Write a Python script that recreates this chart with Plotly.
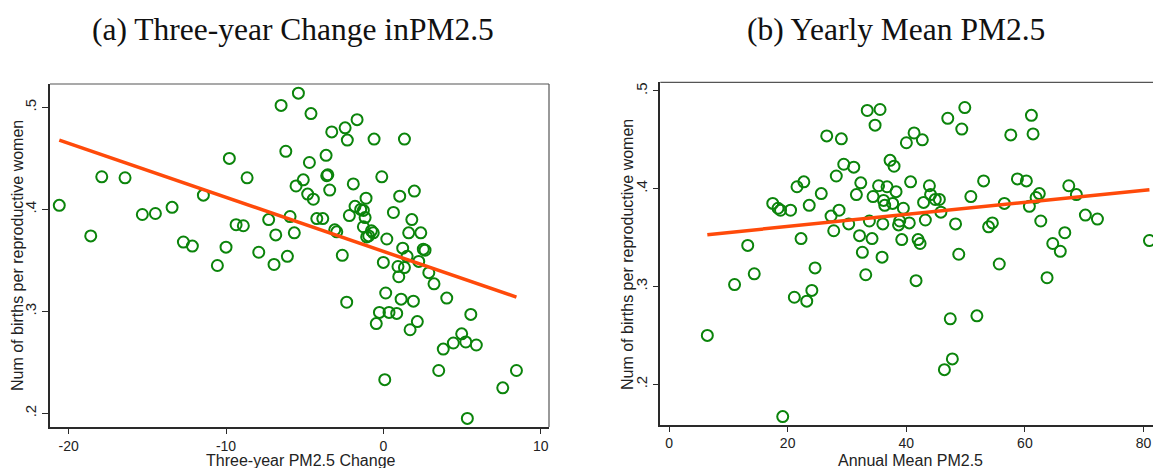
import plotly.graph_objects as go

# ---------------- Data ----------------
# Panel (a): three-year change in PM2.5 vs births per reproductive woman
change_x = [-20.60, -17.90, -16.42, -18.60, -15.32, -14.49, -13.43, -11.44, -12.71, -12.14,
            -9.79, -8.66, -9.36, -8.90, -10.00, -7.92, -7.29, -6.84, -5.93, -5.66,
            -6.50, -6.20, -5.55, -5.40, -6.10, -10.55, -6.95, -4.60, -3.28, -2.43,
            -1.67, -2.29, -0.59, 1.34, -4.70, -3.64, -3.53, -3.60, -0.10, -5.09,
            -3.41, -1.91, -4.81, -4.45, -1.10, 1.04, 1.97, -1.80, -1.44, -1.27,
            0.64, -2.16, -1.16, 1.81, -4.23, -3.85, -1.27, -3.09, -2.96, -0.76,
            -0.64, -0.93, -1.06, 1.61, 2.38, 0.22, 1.23, 2.54, 2.65, -2.61,
            1.51, 0.00, 0.93, 1.34, 2.25, 0.98, 2.89, 3.22, 0.15, -2.33,
            1.13, 1.91, 4.03, -0.25, 0.36, 0.85, -0.45, 2.16, 1.70, 5.56,
            4.98, 4.45, 5.24, 3.81, 5.91, 3.52, 0.09, 8.46, 7.59, 5.34]
change_y = [0.404, 0.432, 0.431, 0.374, 0.395, 0.396, 0.402, 0.414, 0.368, 0.364,
            0.450, 0.431, 0.385, 0.384, 0.363, 0.358, 0.390, 0.375, 0.393, 0.377,
            0.502, 0.457, 0.423, 0.514, 0.354, 0.345, 0.346, 0.494, 0.476, 0.480,
            0.488, 0.468, 0.469, 0.469, 0.446, 0.453, 0.434, 0.433, 0.432, 0.429,
            0.419, 0.425, 0.415, 0.410, 0.411, 0.413, 0.418, 0.403, 0.400, 0.399,
            0.397, 0.394, 0.392, 0.390, 0.391, 0.391, 0.383, 0.380, 0.378, 0.379,
            0.377, 0.374, 0.373, 0.377, 0.377, 0.371, 0.362, 0.361, 0.360, 0.355,
            0.354, 0.348, 0.344, 0.343, 0.349, 0.334, 0.338, 0.327, 0.318, 0.309,
            0.312, 0.310, 0.313, 0.299, 0.299, 0.298, 0.288, 0.290, 0.282, 0.297,
            0.278, 0.269, 0.270, 0.263, 0.267, 0.242, 0.233, 0.242, 0.225, 0.195]
fit_a_x = [-20.6, 8.46]
fit_a_y = [0.468, 0.314]

# Panel (b): yearly mean PM2.5 vs births per reproductive woman
mean_x = [6.46, 11.05, 13.27, 14.37, 17.49, 18.38, 18.80, 20.49, 19.17, 21.13,
          23.22, 24.08, 21.58, 22.73, 22.26, 23.64, 24.62, 25.67, 26.59, 29.06,
          27.32, 28.67, 27.77, 28.20, 29.46, 31.15, 32.33, 31.59, 30.30, 32.12,
          33.78, 34.23, 32.60, 33.17, 33.42, 35.58, 34.74, 34.40, 35.33, 35.92,
          36.76, 36.17, 36.37, 37.71, 38.28, 36.05, 38.70, 38.90, 37.27, 37.94,
          40.73, 43.90, 44.10, 44.89, 45.58, 45.84, 39.51, 42.92, 43.22, 40.51,
          39.24, 41.99, 42.33, 41.65, 40.02, 41.32, 42.71, 47.00, 49.87, 49.36,
          48.31, 48.85, 47.42, 51.91, 47.77, 46.43, 50.89, 53.04, 53.88, 54.52,
          55.68, 56.54, 57.62, 61.10, 61.38, 58.74, 60.25, 60.76, 61.89, 62.43,
          62.68, 63.74, 64.70, 65.97, 66.73, 67.40, 68.68, 70.20, 72.23, 81.00]
mean_y = [0.250, 0.302, 0.342, 0.313, 0.385, 0.380, 0.378, 0.378, 0.167, 0.289,
          0.285, 0.296, 0.402, 0.407, 0.349, 0.383, 0.319, 0.395, 0.454, 0.451,
          0.372, 0.378, 0.357, 0.413, 0.425, 0.422, 0.406, 0.394, 0.364, 0.352,
          0.367, 0.349, 0.335, 0.312, 0.480, 0.481, 0.465, 0.392, 0.403, 0.330,
          0.402, 0.388, 0.383, 0.385, 0.397, 0.364, 0.363, 0.367, 0.429, 0.423,
          0.407, 0.403, 0.394, 0.389, 0.389, 0.376, 0.380, 0.386, 0.368, 0.365,
          0.348, 0.348, 0.344, 0.306, 0.447, 0.457, 0.450, 0.472, 0.483, 0.461,
          0.364, 0.333, 0.267, 0.270, 0.226, 0.215, 0.392, 0.408, 0.361, 0.365,
          0.323, 0.385, 0.455, 0.475, 0.456, 0.410, 0.408, 0.382, 0.391, 0.395,
          0.367, 0.309, 0.344, 0.336, 0.355, 0.403, 0.394, 0.373, 0.369, 0.347]
fit_b_x = [6.46, 81.0]
fit_b_y = [0.353, 0.399]

x_ticks_a = [-20, -10, 0, 10]
x_tick_labels_a = ["-20", "-10", "0", "10"]
x_ticks_b = [0, 20, 40, 60, 80]
x_tick_labels_b = ["0", "20", "40", "60", "80"]
y_ticks = [0.2, 0.3, 0.4, 0.5]
y_tick_labels = [".2", ".3", ".4", ".5"]

titles = ["(a) Three-year Change inPM2.5", "(b) Yearly Mean PM2.5"]
x_titles = ["Three-year PM2.5 Change", "Annual Mean PM2.5"]
y_title = "Num of births per reproductive women"

# ---------------- Styling ----------------
W, H = 1153, 468
GREEN = "#0b840b"
ORANGE = "#ff4a0a"
AXIS = "#2a2a2a"
SANS = "Liberation Sans, Arial, sans-serif"
SERIF = "Liberation Serif, Times New Roman, serif"

def px_x(p):
    return p / W

def px_y(p):
    return 1 - p / H

fig = go.Figure()

marker = dict(symbol="circle-open", size=11, color=GREEN, line=dict(width=2, color=GREEN))

fig.add_trace(go.Scatter(x=change_x, y=change_y, mode="markers", marker=marker,
                         xaxis="x", yaxis="y", showlegend=False))
fig.add_trace(go.Scatter(x=fit_a_x, y=fit_a_y, mode="lines",
                         line=dict(color=ORANGE, width=3.5),
                         xaxis="x", yaxis="y", showlegend=False))
fig.add_trace(go.Scatter(x=mean_x, y=mean_y, mode="markers", marker=marker,
                         xaxis="x2", yaxis="y2", showlegend=False))
fig.add_trace(go.Scatter(x=fit_b_x, y=fit_b_y, mode="lines",
                         line=dict(color=ORANGE, width=3.5),
                         xaxis="x2", yaxis="y2", showlegend=False))

common_x = dict(showgrid=False, zeroline=False, showline=True, linecolor=AXIS, linewidth=1.6,
                ticks="outside", ticklen=5, tickwidth=1.2, tickcolor=AXIS,
                tickfont=dict(family=SANS, size=14, color="#222"),
                automargin=False)
common_y = dict(showgrid=False, zeroline=False, showline=True, linecolor=AXIS, linewidth=1.6,
                ticks="outside", ticklen=6, tickwidth=1.2, tickcolor=AXIS,
                tickvals=y_ticks, ticktext=y_tick_labels, tickangle=-90,
                tickfont=dict(family=SANS, size=15, color="#222"),
                automargin=False)

fig.update_layout(
    width=W, height=H,
    margin=dict(l=0, r=0, t=0, b=0),
    paper_bgcolor="white", plot_bgcolor="white",
    xaxis=dict(common_x, domain=[px_x(50), px_x(549)], range=[-21.19, 10.53],
               tickvals=x_ticks_a, ticktext=x_tick_labels_a, anchor="y"),
    yaxis=dict(common_y, domain=[px_y(427), px_y(84)], range=[0.1866, 0.523], anchor="x"),
    xaxis2=dict(common_x, domain=[px_x(660.3), 1.0], range=[-1.47, 81.6],
                tickvals=x_ticks_b, ticktext=x_tick_labels_b, anchor="y2"),
    yaxis2=dict(common_y, domain=[px_y(424.7), px_y(82.3)], range=[0.1587, 0.5088], anchor="x2"),
)

# thin frame lines (top/right) like the Stata graph region
fig.add_shape(type="line", xref="x domain", yref="y domain", x0=0, x1=1, y0=1, y1=1,
              line=dict(color="#555", width=1.2))
fig.add_shape(type="line", xref="x domain", yref="y domain", x0=1, x1=1, y0=0, y1=1,
              line=dict(color="#555", width=1.2))
fig.add_shape(type="line", xref="x2 domain", yref="y2 domain", x0=0, x1=1, y0=1, y1=1,
              line=dict(color="#555", width=1.2))

# panel titles
for txt, cx in zip(titles, [292.5, 895.5]):
    fig.add_annotation(text=txt, x=px_x(cx), y=px_y(30), xref="paper", yref="paper",
                       xanchor="center", yanchor="middle", showarrow=False,
                       font=dict(family=SERIF, size=31.5, color="#111"))

# axis titles
axis_font = dict(family=SANS, size=16, color="#222")
for txt, cx in zip(x_titles, [300.5, 910]):
    fig.add_annotation(text=txt, x=px_x(cx), y=px_y(460), xref="paper", yref="paper",
                       xanchor="center", yanchor="middle", showarrow=False,
                       font=axis_font)
for cx, cy in [(17, 256), (628, 254)]:
    fig.add_annotation(text=y_title, x=px_x(cx), y=px_y(cy), xref="paper", yref="paper",
                       xanchor="center", yanchor="middle", showarrow=False,
                       textangle=-90, font=axis_font)

fig.write_html("out.html", config={"displayModeBar": False},
               post_script="document.body.style.margin='0';")
